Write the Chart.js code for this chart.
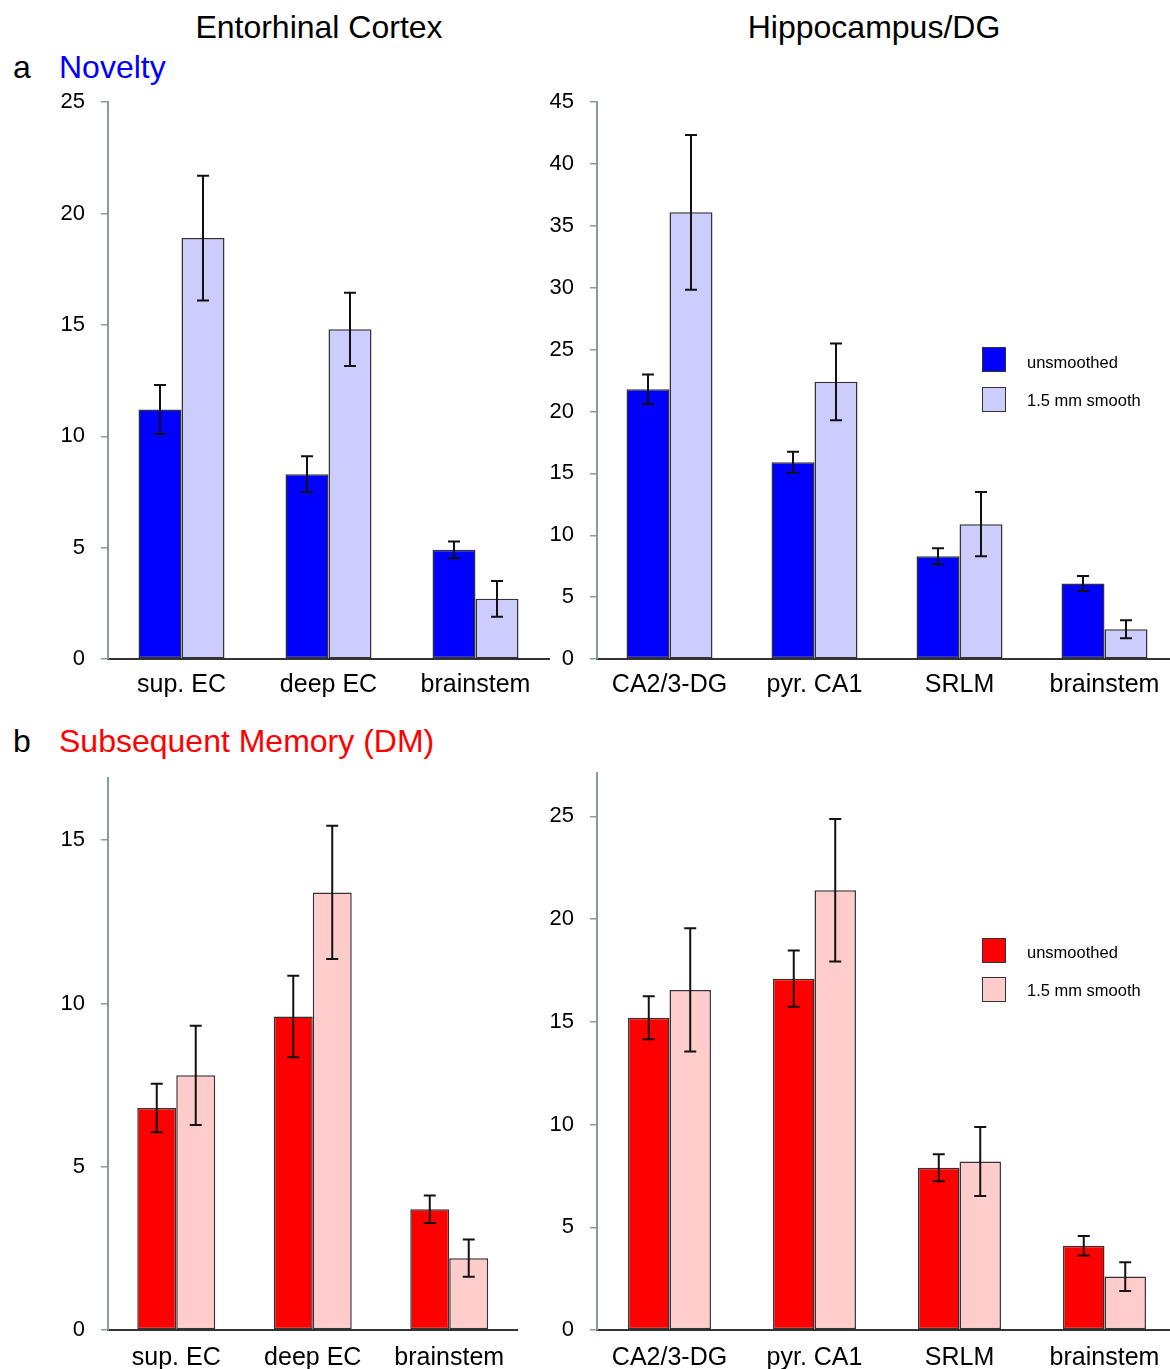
<!DOCTYPE html>
<html lang="en">
<head>
<meta charset="UTF-8">
<title>Novelty and Subsequent Memory</title>
<script src="https://cdn.jsdelivr.net/npm/chart.js"></script>
<style>
    body {
        margin: 0;
        width: 1170px;
        height: 1369px;
        overflow: hidden;
        position: relative;
        background: #fff;
        font-family: 'Liberation Sans', Arial, sans-serif;
    }
    .txt { position: absolute; white-space: nowrap; line-height: 1; color: #000; }
    .big { font-size: 32px; }
    .center { transform: translateX(-50%); }
    .wrap { position: absolute; }
    .key { position: absolute; width: 22px; height: 23px; border: 1.5px solid #333; }
    .keytxt { position: absolute; font-size: 16.5px; line-height: 1; white-space: nowrap; }
</style>
</head>
<body>

<div class="txt big center" style="left:319px; top:11px;">Entorhinal Cortex</div>
<div class="txt big center" style="left:874px; top:11px;">Hippocampus/DG</div>
<div class="txt big" style="left:13px; top:51px;">a</div>
<div class="txt big" style="left:59px; top:51px; color:#0000ff;">Novelty</div>
<div class="txt big" style="left:13px; top:725px;">b</div>
<div class="txt big" style="left:59px; top:725px; color:#ff0000;">Subsequent Memory (DM)</div>

<div class="wrap" style="left:0; top:73px;"><canvas id="novEc" width="560" height="640"></canvas></div>
<div class="wrap" style="left:530px; top:73px;"><canvas id="novHc" width="660" height="640"></canvas></div>
<div class="wrap" style="left:0; top:749px;"><canvas id="dmEc" width="560" height="640"></canvas></div>
<div class="wrap" style="left:530px; top:744px;"><canvas id="dmHc" width="660" height="640"></canvas></div>

<!-- legends -->
<div class="key" style="left:982px; top:347px; background:#0000ff;"></div>
<div class="keytxt" style="left:1027px; top:354px;">unsmoothed</div>
<div class="key" style="left:982px; top:387px; background:#ccccff;"></div>
<div class="keytxt" style="left:1027px; top:392px;">1.5 mm smooth</div>

<div class="key" style="left:982px; top:938px; background:#ff0000;"></div>
<div class="keytxt" style="left:1027px; top:944px;">unsmoothed</div>
<div class="key" style="left:982px; top:977px; background:#ffcccc;"></div>
<div class="keytxt" style="left:1027px; top:982px;">1.5 mm smooth</div>

<script>
    const ecCategories = ['sup. EC', 'deep EC', 'brainstem'];
    const hcCategories = ['CA2/3-DG', 'pyr. CA1', 'SRLM', 'brainstem'];
    const seriesLabels = ['unsmoothed', '1.5 mm smooth'];

    // a) Novelty
    const novEcUnsmoothed = [11.2, 8.3, 4.9];
    const novEcUnsmoothedErr = [1.1, 0.8, 0.38];
    const novEcSmooth = [18.9, 14.8, 2.7];
    const novEcSmoothErr = [2.8, 1.65, 0.8];
    const novHcUnsmoothed = [21.8, 15.9, 8.3, 6.1];
    const novHcUnsmoothedErr = [1.2, 0.85, 0.65, 0.6];
    const novHcSmooth = [36.1, 22.4, 10.9, 2.4];
    const novHcSmoothErr = [6.25, 3.1, 2.6, 0.73];

    // b) Subsequent memory (DM)
    const dmEcUnsmoothed = [6.8, 9.6, 3.7];
    const dmEcUnsmoothedErr = [0.74, 1.25, 0.42];
    const dmEcSmooth = [7.8, 13.4, 2.2];
    const dmEcSmoothErr = [1.52, 2.04, 0.57];
    const dmHcUnsmoothed = [15.2, 17.1, 7.9, 4.1];
    const dmHcUnsmoothedErr = [1.05, 1.37, 0.66, 0.48];
    const dmHcSmooth = [16.55, 21.4, 8.2, 2.6];
    const dmHcSmoothErr = [3.0, 3.47, 1.68, 0.7];

    const blues = ['#0000ff', '#ccccff'];
    const reds = ['#ff0000', '#ffcccc'];
    const axisGray = '#8a9b99';

    Chart.defaults.font.family = "'Liberation Sans', Arial, sans-serif";

    // error bars drawn from the dataset's "errors" array
    const errorBars = {
        id: 'errorBars',
        afterDatasetsDraw(chart) {
            const ctx = chart.ctx;
            const y = chart.scales.y;
            ctx.save();
            ctx.strokeStyle = '#111';
            ctx.lineWidth = 2;
            chart.data.datasets.forEach((ds, i) => {
                chart.getDatasetMeta(i).data.forEach((bar, j) => {
                    const top = y.getPixelForValue(ds.data[j] + ds.errors[j]);
                    const bot = y.getPixelForValue(ds.data[j] - ds.errors[j]);
                    ctx.beginPath();
                    ctx.moveTo(bar.x, top); ctx.lineTo(bar.x, bot);
                    ctx.moveTo(bar.x - 6, top); ctx.lineTo(bar.x + 6, top);
                    ctx.moveTo(bar.x - 6, bot); ctx.lineTo(bar.x + 6, bot);
                    ctx.stroke();
                });
            });
            ctx.restore();
        }
    };

    function drawPanel(id, cats, a, aErr, b, bErr, colors, yMax, g) {
        new Chart(document.getElementById(id), {
            type: 'bar',
            data: {
                labels: cats,
                datasets: [
                    { label: seriesLabels[0], data: a, errors: aErr, backgroundColor: colors[0] },
                    { label: seriesLabels[1], data: b, errors: bErr, backgroundColor: colors[1] }
                ]
            },
            options: {
                responsive: false,
                animation: false,
                layout: { padding: { top: 0, right: g.padRight, left: 0, bottom: 0 } },
                datasets: {
                    bar: {
                        borderColor: '#333',
                        borderWidth: 1.5,
                        borderSkipped: false,
                        categoryPercentage: g.cat,
                        barPercentage: 1
                    }
                },
                plugins: { legend: { display: false }, tooltip: { enabled: false } },
                scales: {
                    x: {
                        grid: { display: false, drawTicks: false },
                        border: { display: true, color: '#333', width: 2 },
                        ticks: { color: '#000', font: { size: 25 }, padding: g.xpad, maxRotation: 0, autoSkip: false },
                        afterFit: s => { s.height = g.xh; }
                    },
                    y: {
                        min: 0,
                        max: yMax,
                        grid: { drawOnChartArea: false, drawTicks: true, tickLength: 7, color: axisGray, lineWidth: 1.5 },
                        border: { display: true, color: axisGray, width: 2 },
                        ticks: { stepSize: 5, includeBounds: false, color: '#000', font: { size: 22 }, padding: 16 },
                        afterFit: s => { s.width = g.yWidth; }
                    }
                }
            },
            plugins: [errorBars]
        });
    }

    drawPanel('novEc', ecCategories, novEcUnsmoothed, novEcUnsmoothedErr, novEcSmooth, novEcSmoothErr,
        blues, 25, { yWidth: 108, padRight: 11, cat: 0.585, xh: 54, xpad: 11 });
    drawPanel('novHc', hcCategories, novHcUnsmoothed, novHcUnsmoothedErr, novHcSmooth, novHcSmoothErr,
        blues, 45, { yWidth: 67, padRight: 13, cat: 0.593, xh: 54, xpad: 11 });
    drawPanel('dmEc', ecCategories, dmEcUnsmoothed, dmEcUnsmoothedErr, dmEcSmooth, dmEcSmoothErr,
        reds, 16.9, { yWidth: 108, padRight: 42.5, cat: 0.571, xh: 59, xpad: 13 });
    drawPanel('dmHc', hcCategories, dmHcUnsmoothed, dmHcUnsmoothedErr, dmHcSmooth, dmHcSmoothErr,
        reds, 27.1, { yWidth: 67, padRight: 13, cat: 0.572, xh: 54, xpad: 13 });
</script>
</body>
</html>
